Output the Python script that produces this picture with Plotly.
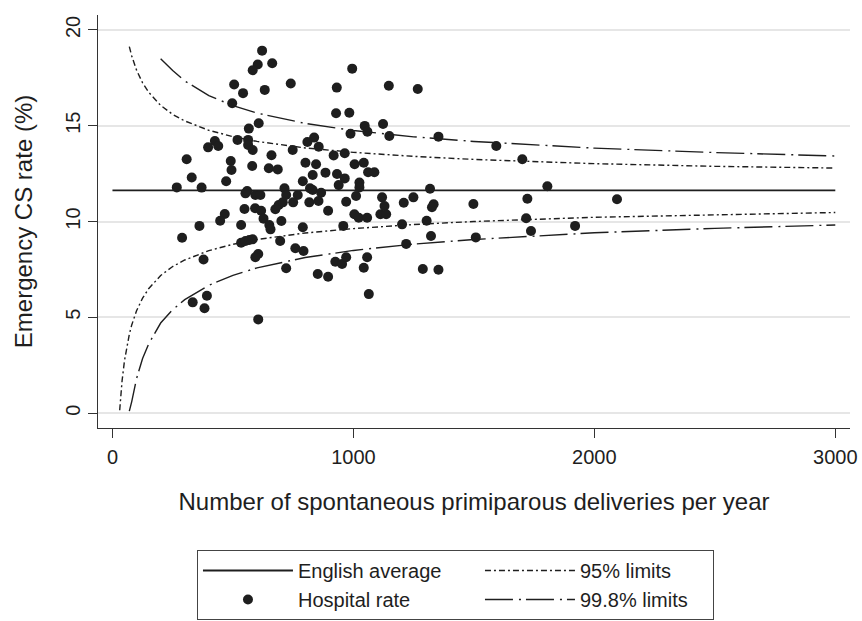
import plotly.graph_objects as go

# Hospital rates: deliveries per year vs emergency CS rate (%)
hosp_n = [621, 603, 582, 663, 505, 542, 632, 740, 497, 566, 607, 425, 397, 439, 519, 563, 563, 582,
          308, 491, 494, 580, 660, 649, 686, 329, 472,
          995, 931, 1147, 928, 983, 1047, 1058, 1123, 988, 1149, 837, 809, 856, 748, 918, 964, 801,
          845, 1005, 1043, 831, 884, 932, 964, 1061, 1087, 790,
          267, 370, 552, 559, 593, 614, 714, 548, 592, 617, 466, 447, 361, 534, 627, 651, 656, 676,
          690, 707, 701, 289, 534, 552, 568, 582, 696, 605, 593, 378, 721, 392, 333, 382, 605,
          721, 820, 831, 866, 769, 939, 1025, 1025, 1011, 1119, 750, 817, 855, 970, 895, 1004, 1022,
          1057, 1112, 1129, 1136, 1209, 1202, 790, 958, 759, 793, 925, 953, 970, 1057, 1043, 852, 895,
          1064, 1219,
          1353, 1593, 1701, 1318, 1805, 1249, 1333, 1326, 1498, 1722, 1304, 1717, 1322, 1508, 1737,
          1920, 1288, 1353, 2094, 1267]
hosp_rate = [18.92, 18.2, 17.9, 18.26, 17.15, 16.7, 16.87, 17.2, 16.17, 14.85, 15.13, 14.2, 13.87, 13.94,
             14.26, 14.26, 14.0, 13.73, 13.25, 13.16, 12.69, 12.9, 13.46, 12.78, 12.72, 12.3, 12.1,
             17.98, 16.99, 17.09, 15.65, 15.68, 14.99, 14.69, 15.09, 14.58, 14.46, 14.38, 14.15, 13.9,
             13.73, 13.45, 13.56, 13.07, 12.99, 12.99, 13.07, 12.43, 12.55, 12.48, 12.25, 12.57, 12.57,
             12.1,
             11.78, 11.77, 11.47, 11.59, 11.38, 11.38, 11.73, 10.65, 10.69, 10.56, 10.39, 10.04, 9.77,
             9.82, 10.15, 9.82, 9.59, 10.64, 10.86, 11.0, 10.03, 9.15, 8.89, 8.98, 9.03, 9.07, 8.98,
             8.3, 8.13, 8.02, 7.56, 6.12, 5.78, 5.47, 4.89,
             11.38, 11.73, 11.64, 11.5, 11.38, 11.9, 12.03, 11.78, 11.33, 11.26, 11.0, 11.0, 11.07,
             11.03, 10.56, 10.38, 10.2, 10.2, 10.38, 10.81, 10.38, 10.98, 9.85, 9.7, 9.77, 8.6, 8.46,
             7.9, 7.78, 8.13, 8.13, 7.59, 7.26, 7.12, 6.21, 8.83,
             14.43, 13.94, 13.25, 11.71, 11.84, 11.26, 10.9, 10.74, 10.91, 11.19, 10.04, 10.17, 9.24,
             9.17, 9.5, 9.77, 7.52, 7.48, 11.16, 16.92]

# English average
avg_n = [0, 3000]
avg_rate = [11.62, 11.62]

# 95% limits
u95_n = [70, 80, 100, 125, 150, 200, 250, 300, 400, 500, 600, 800, 1000, 1250, 1500, 2000, 2500, 3000]
u95_rate = [19.13, 18.64, 17.90, 17.24, 16.75, 16.06, 15.59, 15.25, 14.76, 14.43, 14.18, 13.84, 13.61,
            13.40, 13.24, 13.02, 12.88, 12.79]
l95_n = [30, 40, 50, 60, 70, 80, 100, 125, 150, 200, 250, 300, 400, 500, 600, 800, 1000, 1250, 1500,
         2000, 2500, 3000]
l95_rate = [0.15, 1.69, 2.74, 3.51, 4.11, 4.60, 5.34, 6.00, 6.49, 7.18, 7.65, 7.99, 8.48, 8.81, 9.06,
            9.40, 9.63, 9.84, 10.00, 10.22, 10.36, 10.47]

# 99.8% limits
u998_n = [200, 250, 300, 400, 500, 600, 800, 1000, 1250, 1500, 2000, 2500, 3000]
u998_rate = [18.50, 17.88, 17.34, 16.57, 16.05, 15.66, 15.12, 14.75, 14.42, 14.18, 13.83, 13.60, 13.42]
l998_n = [70, 80, 100, 125, 150, 200, 250, 300, 400, 500, 600, 800, 1000, 1250, 1500, 2000, 2500, 3000]
l998_rate = [0.1, 0.6, 1.8, 2.85, 3.6, 4.7, 5.4, 5.92, 6.67, 7.19, 7.58, 8.12, 8.49, 8.82, 9.06, 9.41,
             9.64, 9.82]

INK = "#1e1e1e"
FONT = "Liberation Sans, Arial, sans-serif"
DASH95 = "6px,3px,2px,3px"
DASH998 = "28px,6px,2px,5px"
W1 = 177
W2 = 128

fig = go.Figure()
fig.add_trace(go.Scatter(x=avg_n, y=avg_rate, mode="lines", name="English average",
                         line=dict(color=INK, width=1.8), legendwidth=W1))
fig.add_trace(go.Scatter(x=u95_n, y=u95_rate, mode="lines", name="95% limits", legendgroup="95",
                         line=dict(color=INK, width=1.4, dash=DASH95), legendwidth=W2))
fig.add_trace(go.Scatter(x=hosp_n, y=hosp_rate, mode="markers", name="Hospital rate",
                         marker=dict(color=INK, size=10, line=dict(width=0)), legendwidth=W1))
fig.add_trace(go.Scatter(x=u998_n, y=u998_rate, mode="lines", name="99.8% limits", legendgroup="998",
                         line=dict(color=INK, width=1.4, dash=DASH998), legendwidth=W2))
fig.add_trace(go.Scatter(x=l95_n, y=l95_rate, mode="lines", name="95% limits", legendgroup="95",
                         showlegend=False, line=dict(color=INK, width=1.4, dash=DASH95)))
fig.add_trace(go.Scatter(x=l998_n, y=l998_rate, mode="lines", name="99.8% limits", legendgroup="998",
                         showlegend=False, line=dict(color=INK, width=1.4, dash=DASH998)))

fig.update_layout(
    width=862, height=621,
    margin=dict(l=98, r=12, t=15, b=193, autoexpand=False),
    plot_bgcolor="white", paper_bgcolor="white",
    font=dict(family=FONT, size=20, color=INK),
    legend=dict(orientation="h", xref="container", yref="container", x=0.2285, xanchor="left",
                y=0.1143, yanchor="top",
                itemwidth=90, bordercolor="#444", borderwidth=1, bgcolor="white",
                traceorder="normal", font=dict(size=20), itemclick=False),
    xaxis=dict(range=[-60, 3061], tickvals=[0, 1000, 2000, 3000], showgrid=False, zeroline=False,
               showline=True, linecolor="#333", linewidth=1.2, ticks="outside", ticklen=9,
               tickcolor="#333", tickwidth=1.2, ticklabelstandoff=2,
               title=dict(text="Number of spontaneous primiparous deliveries per year", standoff=26)),
    yaxis=dict(range=[-0.78, 20.78], tickvals=[0, 5, 10, 15, 20], showgrid=True, gridcolor="#e6e6e6",
               gridwidth=1.5, zeroline=False, showline=True, linecolor="#333", linewidth=1.2,
               ticks="outside", ticklen=9, tickcolor="#333", tickwidth=1.2, tickangle=-90,
               title=dict(text="Emergency CS rate (%)", standoff=22)),
)

fig.write_html("out.html")
